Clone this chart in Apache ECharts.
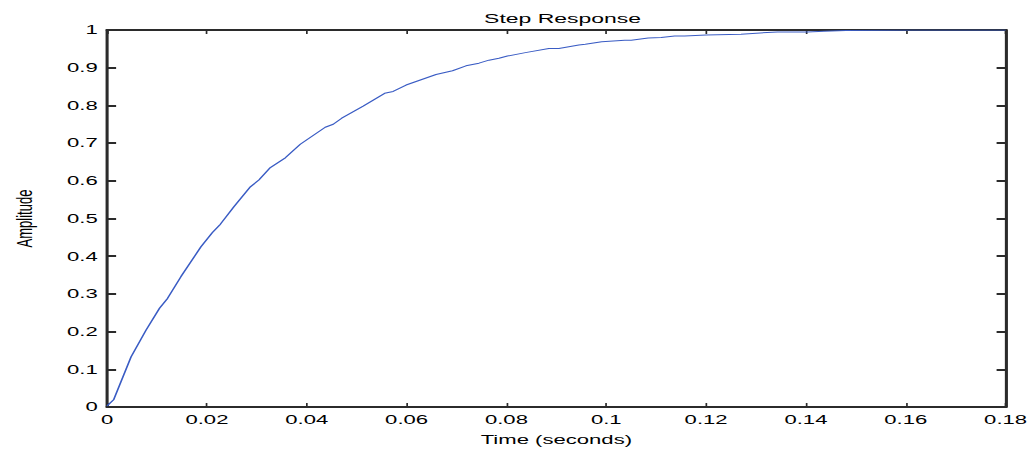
<!DOCTYPE html>
<html>
<head>
<meta charset="utf-8">
<script src="https://cdn.jsdelivr.net/npm/echarts@6/dist/echarts.min.js"></script>
<style>
  html, body { margin: 0; padding: 0; background: #fff; overflow: hidden; }
  /* the original figure is stretched sideways, so draw narrow and scale */
  #main { width: 608.235px; height: 451px; transform: scaleX(1.7); transform-origin: 0 0; }
</style>
</head>
<body>
<div id="main"></div>
<script>
// step response
var times = [0, 0.0013, 0.0048, 0.0078, 0.0105, 0.0121, 0.0148, 0.0188, 0.0211, 0.0227,
    0.0254, 0.0287, 0.0304, 0.0327, 0.0357, 0.0387, 0.0437, 0.0453, 0.0470, 0.0513,
    0.0556, 0.0573, 0.0599, 0.0659, 0.0692, 0.0719, 0.0745, 0.0765, 0.0785, 0.0802,
    0.0838, 0.0885, 0.0905, 0.0945, 0.0958, 0.0991, 0.1037, 0.1050, 0.1084, 0.1110,
    0.1137, 0.1157, 0.1200, 0.1270, 0.1343, 0.1403, 0.1436, 0.1480, 0.1615, 0.1800];
var amps = [0.003, 0.019, 0.133, 0.204, 0.262, 0.288, 0.346, 0.425, 0.463, 0.485,
    0.531, 0.584, 0.602, 0.635, 0.661, 0.697, 0.742, 0.750, 0.766, 0.798,
    0.832, 0.837, 0.854, 0.882, 0.892, 0.905, 0.912, 0.920, 0.925, 0.931,
    0.940, 0.951, 0.951, 0.960, 0.962, 0.969, 0.973, 0.973, 0.979, 0.980,
    0.984, 0.984, 0.987, 0.989, 0.995, 0.995, 0.997, 0.999, 1.000, 1.000];

var SX = 1.7; // horizontal stretch of the whole figure

var chart = echarts.init(document.getElementById('main'), null, { renderer: 'svg' });

var seriesData = [];
for (var i = 0; i < times.length; i++) {
    seriesData.push([times[i], amps[i]]);
}

var fontName = 'Liberation Sans, Arial, sans-serif';
var axisCol = '#2b2b2b';

function trim(v) { return String(+v.toFixed(2)); }

var option = {
    animation: false,
    backgroundColor: '#fff',
    title: {
        text: 'Step Response',
        left: 554 / SX,
        top: 6.5,
        textAlign: 'center',
        textStyle: { fontFamily: fontName, fontSize: 13.5, fontWeight: 'normal', color: '#000' }
    },
    grid: { left: 102.5 / SX, right: 28 / SX, top: 30, bottom: 44 },
    xAxis: [
        {
            type: 'value', min: 0, max: 0.18, interval: 0.02, position: 'bottom',
            name: 'Time (seconds)', nameLocation: 'middle', nameGap: 26,
            nameTextStyle: { fontFamily: fontName, fontSize: 13, color: '#000' },
            axisLine: { onZero: false, lineStyle: { color: axisCol, width: 2 } },
            axisTick: { inside: true, length: 4, lineStyle: { color: axisCol, width: 1 } },
            axisLabel: { fontFamily: fontName, fontSize: 13, color: '#000', margin: 6, formatter: trim },
            splitLine: { show: false }
        },
        {
            type: 'value', min: 0, max: 0.18, interval: 0.02, position: 'top',
            axisLine: { show: true, onZero: false, lineStyle: { color: axisCol, width: 2 } },
            axisTick: { show: true, inside: true, length: 4, lineStyle: { color: axisCol, width: 1 } },
            axisLabel: { show: false },
            splitLine: { show: false }
        }
    ],
    yAxis: [
        {
            type: 'value', min: 0, max: 1, interval: 0.1, position: 'left',
            name: 'Amplitude', nameLocation: 'middle', nameGap: 42, nameRotate: 90,
            nameTextStyle: { fontFamily: fontName, fontSize: 13, color: '#000' },
            axisLine: { show: true, onZero: false, lineStyle: { color: axisCol, width: 1.8 } },
            axisTick: { show: true, inside: true, length: 5.3, lineStyle: { color: axisCol, width: 2 } },
            axisLabel: { fontFamily: fontName, fontSize: 13, color: '#000', margin: 5.5, formatter: trim },
            splitLine: { show: false }
        },
        {
            type: 'value', min: 0, max: 1, interval: 0.1, position: 'right',
            axisLine: { show: true, onZero: false, lineStyle: { color: axisCol, width: 1.8 } },
            axisTick: { show: true, inside: true, length: 5.3, lineStyle: { color: axisCol, width: 2 } },
            axisLabel: { show: false },
            splitLine: { show: false }
        }
    ],
    series: [
        {
            type: 'line',
            xAxisIndex: 0,
            yAxisIndex: 0,
            data: seriesData,
            showSymbol: false,
            smooth: false,
            lineStyle: { color: '#3a5cc4', width: 1 },
            z: 1
        }
    ]
};

chart.setOption(option);
</script>
</body>
</html>
